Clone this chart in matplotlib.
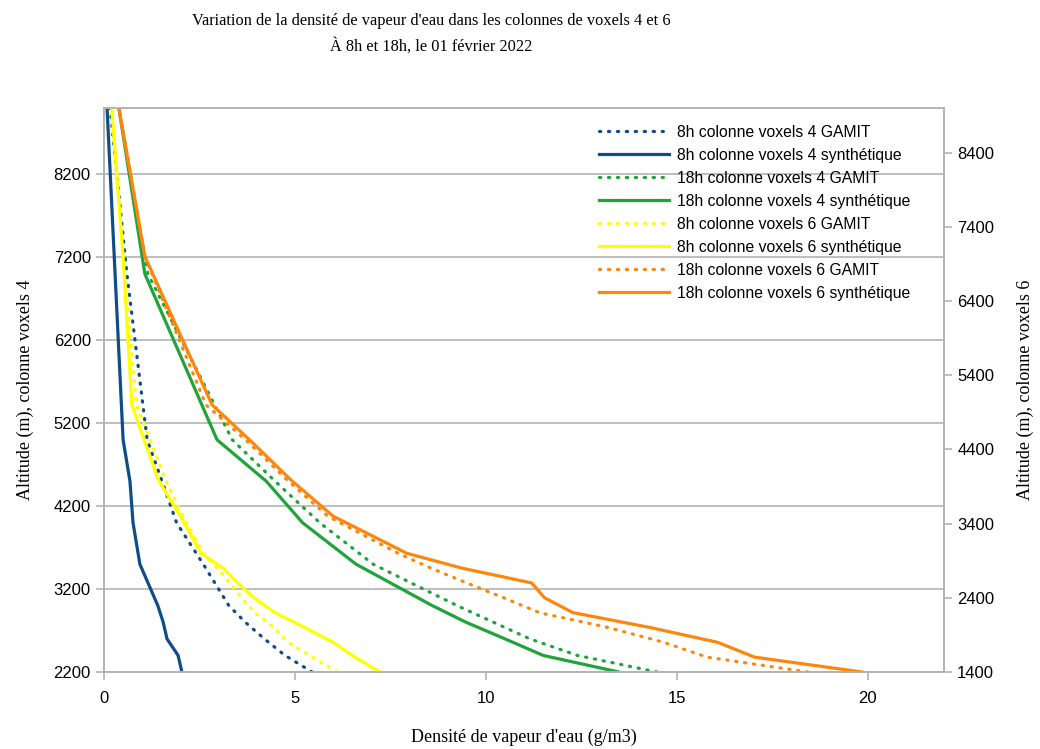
import matplotlib
matplotlib.use("Agg")
import matplotlib.pyplot as plt

# niveaux d'altitude (m)
alt_v4 = [2200, 2400, 2600, 2800, 3000, 3500, 4000, 4500, 5000, 7000, 9000]
alt_v6 = [1400, 1600, 1800, 2000, 2200, 2400, 2600, 2800, 3000, 3500, 4000, 4500, 5000, 7000, 9000]

# densité de vapeur d'eau (g/m3)
v4_8h_gamit = [5.45, 4.74, 4.2, 3.7, 3.27, 2.6, 1.9, 1.52, 1.13, 0.6, 0.16]
v4_8h_synth = [2.04, 1.94, 1.65, 1.55, 1.41, 0.94, 0.76, 0.68, 0.50, 0.29, 0.08]
v4_18h_gamit = [14.48, 12.4, 11.15, 10.2, 9.25, 7.05, 5.65, 4.48, 3.36, 1.15, 0.39]
v4_18h_synth = [13.48, 11.5, 10.5, 9.48, 8.6, 6.6, 5.2, 4.25, 2.96, 1.07, 0.39]
v6_8h_gamit = [6.1, 5.47, 4.82, 4.45, 3.95, 3.6, 3.3, 2.96, 2.6, 2.07, 1.6, 1.23, 0.85, 0.5, 0.2]
v6_8h_synth = [7.23, 6.57, 6.0, 5.26, 4.48, 3.93, 3.5, 3.12, 2.54, 2.0, 1.41, 1.07, 0.73, 0.5, 0.2]
v6_18h_gamit = [18.43, 15.8, 14.66, 13.2, 11.4, 10.47, 9.5, 8.56, 7.7, 5.86, 4.77, 3.77, 2.67, 1.07, 0.39]
v6_18h_synth = [19.85, 17.04, 16.07, 14.3, 12.28, 11.54, 11.2, 9.37, 7.93, 6.0, 4.87, 3.87, 2.83, 1.07, 0.39]

bleu = '#0f4c8a'
vert = '#1fa33a'
jaune = '#ffff00'
orange = '#ff860d'
gris = '#b3b3b3'
pointille = (0, (0.4, 2.4))

fig = plt.figure(figsize=(10.4, 7.49), dpi=100)
ax = fig.add_axes([0.1, 0.1028, 0.8077, 0.753])
ax2 = ax.twinx()

lw = 2.3
l1, = ax.plot(v4_8h_gamit, alt_v4, color=bleu, lw=lw, ls=pointille, dash_capstyle='round')
l2, = ax.plot(v4_8h_synth, alt_v4, color=bleu, lw=lw)
l3, = ax.plot(v4_18h_gamit, alt_v4, color=vert, lw=lw, ls=pointille, dash_capstyle='round')
l4, = ax.plot(v4_18h_synth, alt_v4, color=vert, lw=lw)
l5, = ax2.plot(v6_8h_gamit, alt_v6, color=jaune, lw=lw, ls=pointille, dash_capstyle='round')
l6, = ax2.plot(v6_8h_synth, alt_v6, color=jaune, lw=lw)
l7, = ax2.plot(v6_18h_gamit, alt_v6, color=orange, lw=lw, ls=pointille, dash_capstyle='round')
l8, = ax2.plot(v6_18h_synth, alt_v6, color=orange, lw=lw)

ax.set_xlim(0, 22)
ax.set_ylim(2200, 9000)
ax2.set_ylim(1400, 9000)
ax.set_xticks([0, 5, 10, 15, 20])
ax.set_yticks(range(2200, 8300, 1000))
ax2.set_yticks(range(1400, 8500, 1000))
ax.yaxis.grid(True, color=gris, lw=1.2)
ax.set_axisbelow(True)

tickfont = ['Liberation Sans Narrow', 'Liberation Sans', 'DejaVu Sans']
for a in (ax, ax2):
    for s in a.spines.values():
        s.set_color(gris)
        s.set_linewidth(1.2)
    a.tick_params(colors=gris, length=6, width=1.2, labelcolor='black', labelsize=12)
    for lab in a.get_xticklabels() + a.get_yticklabels():
        lab.set_family(tickfont)
ax.tick_params(axis='x', pad=8)

serif = ['Liberation Serif', 'DejaVu Serif']
ax.set_xlabel("Densité de vapeur d'eau (g/m3)", family=serif, fontsize=13, labelpad=16)
ax.set_ylabel("Altitude (m), colonne voxels 4", family=serif, fontsize=13, labelpad=14)
ax2.set_ylabel("Altitude (m), colonne voxels 6", family=serif, fontsize=13, labelpad=16)

fig.text(0.415, 0.955, "Variation de la densité de vapeur d'eau dans les colonnes de voxels 4 et 6\nÀ 8h et 18h, le 01 février 2022",
         ha='center', va='center', family=serif, fontsize=11.8, linespacing=1.7)

lignes = [l1, l2, l3, l4, l5, l6, l7, l8]
noms = ['8h colonne voxels 4 GAMIT', '8h colonne voxels 4 synthétique',
        '18h colonne voxels 4 GAMIT', '18h colonne voxels 4 synthétique',
        '8h colonne voxels 6 GAMIT', '8h colonne voxels 6 synthétique',
        '18h colonne voxels 6 GAMIT', '18h colonne voxels 6 synthétique']
leg = ax2.legend(lignes, noms, loc='upper left', bbox_to_anchor=(0.573, 0.995),
                 frameon=False, handlelength=4.45, handletextpad=0.5,
                 labelspacing=0.51, prop={'family': ['Liberation Sans', 'DejaVu Sans'], 'size': 11.3})

fig.savefig('out.png', dpi=100)
